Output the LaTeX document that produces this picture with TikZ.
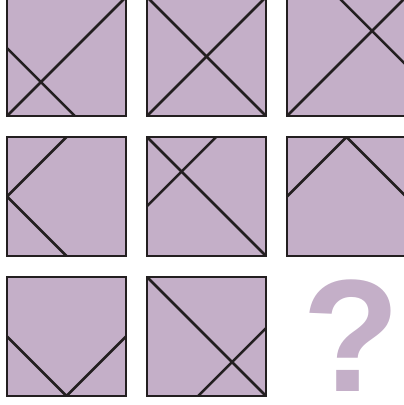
\documentclass[tikz,border=0pt]{standalone}
\usepackage{fontspec}
\setmainfont{Liberation Sans}
\definecolor{lilac}{RGB}{196,175,200}
\definecolor{ink}{RGB}{35,31,32}
\tikzset{
  tile/.style={fill=lilac,draw=none},
  frame/.style={draw=ink,line width=2.9pt,line join=miter},
  cut/.style={draw=ink,line width=2.5pt,line cap=butt}
}
\newcommand{\puzzletile}[3]{%
  \begin{scope}[shift={(#1pt,-#2pt)},x=119pt,y=119pt]
    \fill[lilac] (0,0) rectangle (1,1);
    \begin{scope}
      \clip (0,0) rectangle (1,1);
      #3
    \end{scope}
    \draw[frame] (0,0) rectangle (1,1);
  \end{scope}}
\begin{document}
\begin{tikzpicture}
\useasboundingbox (0,0) rectangle (404pt,-405pt);
\fill[white] (0,0) rectangle (404pt,-405pt);
% row 1
\puzzletile{7}{116}{\draw[cut] (0,0) -- (1,1); \draw[cut] (0,0.57) -- (0.57,0);}
\puzzletile{147}{116}{\draw[cut] (0,0) -- (1,1); \draw[cut] (0,1) -- (1,0);}
\puzzletile{287}{116}{\draw[cut] (0,0) -- (1,1); \draw[cut] (0.43,1) -- (1,0.43);}
% row 2
\puzzletile{7}{256}{\draw[cut] (0.5,1) -- (0,0.5) -- (0.5,0);}
\puzzletile{147}{256}{\draw[cut] (0,1) -- (1,0); \draw[cut] (0,0.42) -- (0.58,1);}
\puzzletile{287}{256}{\draw[cut] (0,0.5) -- (0.5,1) -- (1,0.5);}
% row 3
\puzzletile{7}{396}{\draw[cut] (0,0.5) -- (0.5,0) -- (1,0.5);}
\puzzletile{147}{396}{\draw[cut] (0,1) -- (1,0); \draw[cut] (0.43,0) -- (1,0.57);}
\node[inner sep=0pt,text=lilac,font=\fontsize{160}{160}\selectfont\bfseries] (q) at (351pt,-336pt) {?};
\end{tikzpicture}
\end{document}
